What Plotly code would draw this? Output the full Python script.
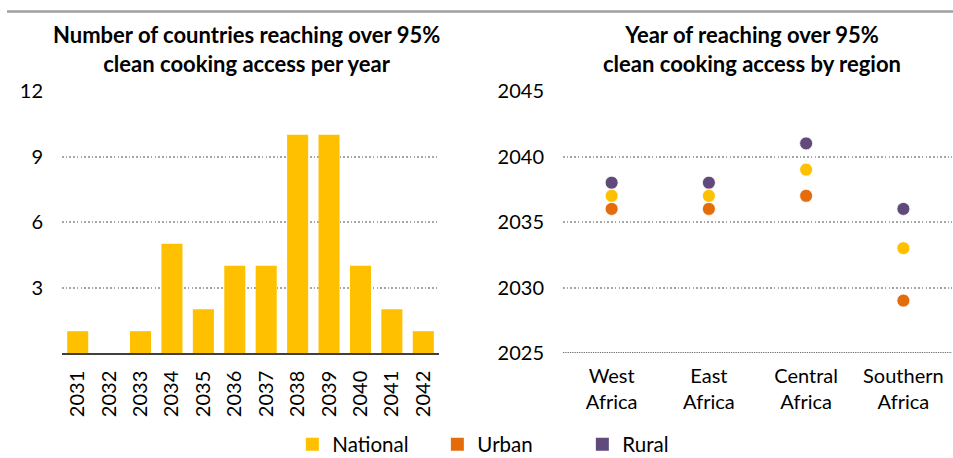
import plotly.graph_objects as go

# ---- data ----
years = ["2031", "2032", "2033", "2034", "2035", "2036", "2037", "2038", "2039", "2040", "2041", "2042"]
countries = [1, 0, 1, 5, 2, 4, 4, 10, 10, 4, 2, 1]

regions = ["West<br>Africa", "East<br>Africa", "Central<br>Africa", "Southern<br>Africa"]
national = [2037, 2037, 2039, 2033]
urban = [2036, 2036, 2037, 2029]
rural = [2038, 2038, 2041, 2036]

left_ticks = [3, 6, 9, 12]
right_ticks = [2025, 2030, 2035, 2040, 2045]
left_range = [0, 12]
right_range = [2025, 2045]

C_NAT = "#FFC000"
C_URB = "#E46C0A"
C_RUR = "#604A7B"
FONT = "Lato"
W, H = 953, 458

fig = go.Figure()

fig.add_trace(go.Bar(x=years, y=countries, marker=dict(color=C_NAT, line=dict(width=0)),
                     xaxis="x", yaxis="y", showlegend=False, hoverinfo="y"))

for name, vals, col in [("Urban", urban, C_URB), ("Rural", rural, C_RUR), ("National", national, C_NAT)]:
    fig.add_trace(go.Scatter(x=regions, y=vals, mode="markers", name=name,
                             marker=dict(color=col, size=13, line=dict(width=0.8, color="white")),
                             xaxis="x2", yaxis="y2", showlegend=False))

# legend entries (square swatches)
for name, col in [("National", C_NAT), ("Urban", C_URB), ("Rural", C_RUR)]:
    fig.add_trace(go.Scatter(x=[None], y=[None], mode="markers", name=name,
                             marker=dict(color=col, size=13, symbol="square"),
                             xaxis="x2", yaxis="y2", showlegend=True))

ydom = [1 - 353 / H, 1 - 91 / H]
grid = dict(showgrid=True, gridcolor="#A6A6A6", gridwidth=1.6, griddash="1.6px,2.1px")
tickfont = dict(family=FONT, size=20, color="#000000")

fig.update_layout(
    template="none",
    width=W, height=H,
    margin=dict(l=0, r=0, t=0, b=0, pad=0, autoexpand=False),
    paper_bgcolor="white", plot_bgcolor="white",
    bargap=0.33,
    font=dict(family=FONT, color="#000000"),
    xaxis=dict(domain=[62 / W, 439 / W], type="category", tickangle=-90, tickfont=tickfont,
               range=[-0.5, len(years) - 0.5],
               showline=True, linecolor="#404040", linewidth=1.5, ticks="", ticklabelstandoff=8,
               showgrid=False, automargin=False, anchor="y"),
    yaxis=dict(domain=ydom, range=left_range, tickvals=left_ticks, tickfont=tickfont,
               ticks="", showline=False, zeroline=False, ticklabelstandoff=18, automargin=False,
               anchor="x", **grid),
    xaxis2=dict(domain=[563 / W, 952 / W], type="category", tickfont=tickfont, ticks="",
                range=[-0.5, len(regions) - 0.5],
                showline=False, showgrid=False, ticklabelstandoff=9, anchor="y2", automargin=False),
    yaxis2=dict(domain=ydom, range=right_range, tickvals=right_ticks, tickfont=tickfont,
                ticks="", showline=False, zeroline=False, ticklabelstandoff=18, anchor="x2",
                automargin=False, **grid),
    legend=dict(orientation="h", x=0.535, xanchor="center", y=-0.014, yanchor="bottom",
                font=dict(family=FONT, size=20.5, color="#000000"),
                entrywidth=100, entrywidthmode="pixels", itemwidth=30,
                bgcolor="rgba(0,0,0,0)", traceorder="normal"),
    showlegend=True,
)

# darker dotted baseline on the right chart, drawn at the axis minimum
fig.add_shape(type="line", xref="x2 domain", yref="y2", x0=0, x1=1,
              y0=right_range[0], y1=right_range[0],
              line=dict(color="#404040", width=1.3, dash="1.3px,1px"), layer="above")

# grey rule at the very top
fig.add_shape(type="line", xref="paper", yref="paper", x0=7 / W, x1=1, y0=1 - 11.5 / H, y1=1 - 11.5 / H,
              line=dict(color="#A0A0A0", width=2.5), layer="above")

titles = [("Number of countries reaching over 95%<br>clean cooking access per year", 246 / W),
          ("Year of reaching over 95%<br>clean cooking access by region", 752 / W)]
for txt, xc in titles:
    fig.add_annotation(text="<b>" + txt + "</b>", x=xc, y=1 - 49 / H, xref="paper", yref="paper",
                       xanchor="center", yanchor="middle", showarrow=False,
                       font=dict(family=FONT, size=22, color="#000000"))

fig.write_html("out.html")
